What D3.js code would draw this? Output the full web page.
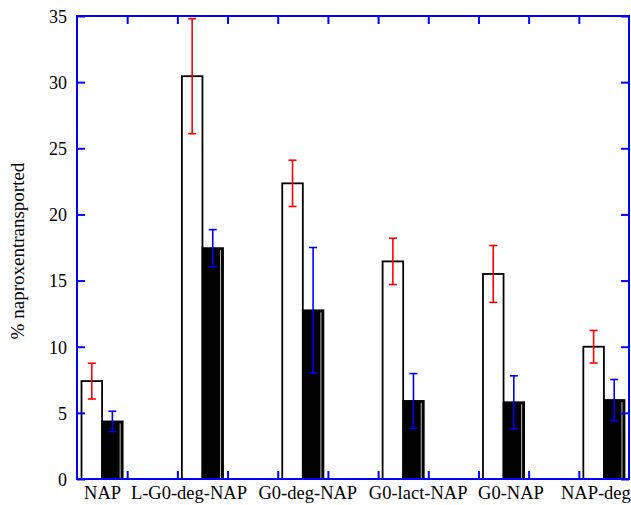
<!DOCTYPE html>
<html><head><meta charset="utf-8">
<script src="https://cdn.jsdelivr.net/npm/d3@7"></script>
<style>body{margin:0;background:#fff}svg{display:block}svg text{font-family:"Liberation Serif","Times New Roman","DejaVu Serif",serif}</style>
</head><body>
<svg id="c" width="631" height="505"></svg>
<script>
const categories = ["NAP","L-G0-deg-NAP","G0-deg-NAP","G0-lact-NAP","G0-NAP","NAP-deg"];
const openValues = [7.4, 30.45, 22.35, 16.45, 15.5, 10.0];
const openErrors = [1.35, 4.35, 1.75, 1.75, 2.15, 1.23];
const filledValues = [4.35, 17.45, 12.75, 5.9, 5.8, 5.97];
const filledErrors = [0.77, 1.4, 4.75, 2.07, 2.0, 1.55];
const yTicks = [0,5,10,15,20,25,30,35];
const xTicks = [1,2,3,4,5,6,7,8,9,10];

const m = {l:77, t:16, r:2, b:26};
const W = 631, H = 505;
const iw = W - m.l - m.r, ih = H - m.t - m.b;
const svg = d3.select("#c");
const g = svg.append("g").attr("transform",`translate(${m.l},${m.t})`);
const x = d3.scaleLinear().domain([0,11]).range([0,iw]);
const y = d3.scaleLinear().domain([0,35]).range([ih,0]);
const blue = "#0000ff", font = '"Liberation Serif","Times New Roman","DejaVu Serif",serif';
const bw = 0.41;

categories.forEach((c,i)=>{
  const cx = 2*i + 0.5;
  g.append("rect").attr("x",x(cx-bw)).attr("y",y(openValues[i]))
    .attr("width",x(bw)-x(0)).attr("height",y(0)-y(openValues[i]))
    .attr("fill","#fff").attr("stroke","#000").attr("stroke-width",1.8);
  g.append("rect").attr("x",x(cx)).attr("y",y(filledValues[i]))
    .attr("width",x(bw)-x(0)).attr("height",y(0)-y(filledValues[i]))
    .attr("fill","#000").attr("stroke","#000").attr("stroke-width",1.8);
  g.append("line").attr("x1",x(cx+bw)-2.5).attr("x2",x(cx+bw)-2.5)
    .attr("y1",y(filledValues[i])+2).attr("y2",y(0)-1)
    .attr("stroke","#bbb").attr("stroke-width",1);
});

function errBars(vals, errs, off, col){
  vals.forEach((v,i)=>{
    const cx = x(2*i + 0.5 + off);
    const e = errs[i];
    g.append("line").attr("x1",cx).attr("x2",cx).attr("y1",y(v+e)).attr("y2",y(v-e))
      .attr("stroke",col).attr("stroke-width",1.6);
    [v+e, v-e].forEach(t=>{
      g.append("line").attr("x1",cx-4).attr("x2",cx+4).attr("y1",y(t)).attr("y2",y(t))
        .attr("stroke",col).attr("stroke-width",1.6);
    });
  });
}
errBars(openValues, openErrors, -bw/2, "#ff0000");
errBars(filledValues, filledErrors, bw/2, blue);

function styleAx(sel){
  sel.attr("font-family",null);
  sel.selectAll("path").remove();
  sel.selectAll("line").attr("stroke",blue).attr("stroke-width",2);
  sel.selectAll("text").style("font-family",font).style("font-size","18px").attr("fill","#000");
}
g.append("g").call(d3.axisLeft(y).tickValues(yTicks).tickSize(-8).tickPadding(10)).call(styleAx)
  .selectAll("text").attr("dy","0.35em");
g.append("g").attr("transform",`translate(${iw},0)`)
  .call(d3.axisRight(y).tickValues(yTicks).tickSize(-8).tickFormat("")).call(styleAx);
g.append("g").call(d3.axisTop(x).tickValues(xTicks).tickSize(-8).tickFormat("")).call(styleAx);
g.append("g").attr("transform",`translate(0,${ih})`)
  .call(d3.axisBottom(x).tickValues(xTicks).tickSize(-8).tickFormat("")).call(styleAx);
g.append("rect").attr("x",0).attr("y",0).attr("width",iw).attr("height",ih)
  .attr("fill","none").attr("stroke",blue).attr("stroke-width",2);

const nudge = [0.5,-13.5,5,15,7.4,-8];
categories.forEach((c,i)=>{
  g.append("text").attr("x",x(2*i+0.5)+nudge[i]).attr("y",ih+20)
    .attr("text-anchor","middle").style("font-family",font).style("font-size","18.5px")
    .attr("fill","#000").text(c);
});

svg.append("text").attr("transform","translate(24,251) rotate(-90)")
  .attr("text-anchor","middle").style("font-family",font).style("font-size","19px")
  .attr("fill","#000").text("% naproxentransported");
</script>
</body></html>
